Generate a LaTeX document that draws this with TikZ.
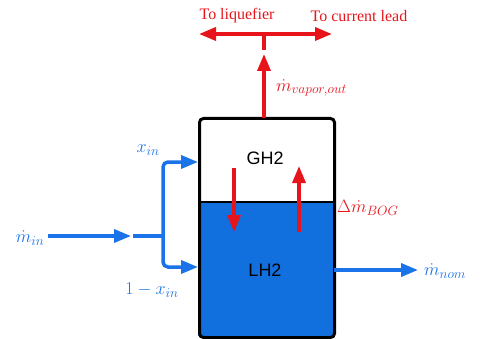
\RequirePackage{fix-cm}
\documentclass[tikz,border=0pt]{standalone}
\usepackage{fontspec}
\setmainfont{Liberation Serif}
\newfontfamily\arialf{Liberation Sans}
\DeclareMathSizes{18}{18}{13.5}{10}
\usetikzlibrary{arrows.meta}
\definecolor{fblue}{HTML}{1A73E8}
\definecolor{lblue}{HTML}{1170DE}
\definecolor{fred}{HTML}{E8141C}
\begin{document}
\begin{tikzpicture}[x=1pt,y=-1pt,
  arr/.style={line width=3.5pt,-{Triangle[length=17pt,width=13pt]}},
  plain/.style={line width=3.5pt},
  mlab/.style={font=\fontsize{18}{20}\selectfont,inner sep=1pt},
  tlab/.style={font=\fontsize{16}{18}\selectfont,text=fred,inner sep=1pt},
  phase/.style={font=\arialf\fontsize{18}{20}\selectfont,inner sep=1pt}]
\useasboundingbox (0,0) rectangle (486,339);
% tank
\fill[lblue] (198,202) rectangle (333,336);
\draw[line width=1.5pt] (198,202) -- (333,202);
\node[draw,line width=3pt,rounded corners=4pt,minimum width=135pt,minimum height=219pt,inner sep=0,anchor=north west] (tank) at (198,117) {};
\node[phase] (gh2) at (265,158) {GH2};
\node[phase] (lh2) at (265,270) {LH2};
% internal red arrows
\coordinate (dtop) at (234,168);
\coordinate (dbot) at (234,232);
\coordinate (ubot) at (299,232);
\coordinate (utop) at (299,166);
\draw[arr,fred] (dtop) -- (dbot);
\draw[arr,fred] (ubot) -- (utop);
\node[mlab,text=fred,anchor=west] (bog) at (336,208) {$\Delta\dot m_{BOG}$};
% top red
\coordinate (ttop) at (264,118);
\coordinate (ttip) at (264,54);
\coordinate (tstub) at (264,50);
\coordinate (tj) at (264,34);
\coordinate (lt) at (199,34);
\coordinate (rt) at (332,34);
\draw[arr,fred] (ttop) -- (ttip);
\draw[plain,fred] (tstub) -- (tj);
\draw[arr,fred] (tj) -- (lt);
\draw[arr,fred] (tj) -- (rt);
\node[tlab] (liq) at (237,16) {To liquefier};
\node[tlab] (cur) at (359,16) {To current lead};
\node[mlab,text=fred,anchor=west] (vap) at (275,88) {$\dot m_{vapor,out}$};
% left blue
\node[mlab,text=fblue] (min) at (30,238) {$\dot m_{in}$};
\coordinate (a1) at (48,236);
\coordinate (a2) at (131,236);
\coordinate (b1) at (133,236);
\coordinate (bj) at (163,236);
\coordinate (gin) at (198,162);
\coordinate (lin) at (198,267);
\draw[arr,fblue] (a1) -- (a2);
\draw[plain,fblue] (b1) -- (bj);
\draw[arr,fblue,rounded corners=5pt] (bj) |- (gin);
\draw[arr,fblue,rounded corners=5pt] (bj) |- (lin);
\node[mlab,text=fblue] (xin) at (148,150) {$x_{in}$};
\node[mlab,text=fblue] (xin2) at (152,290) {$1-x_{in}$};
% right blue
\coordinate (o1) at (334,270);
\coordinate (o2) at (418,270);
\draw[arr,fblue] (o1) -- (o2);
\node[mlab,text=fblue,anchor=west] (mnom) at (423,271) {$\dot m_{nom}$};
\end{tikzpicture}
\end{document}
